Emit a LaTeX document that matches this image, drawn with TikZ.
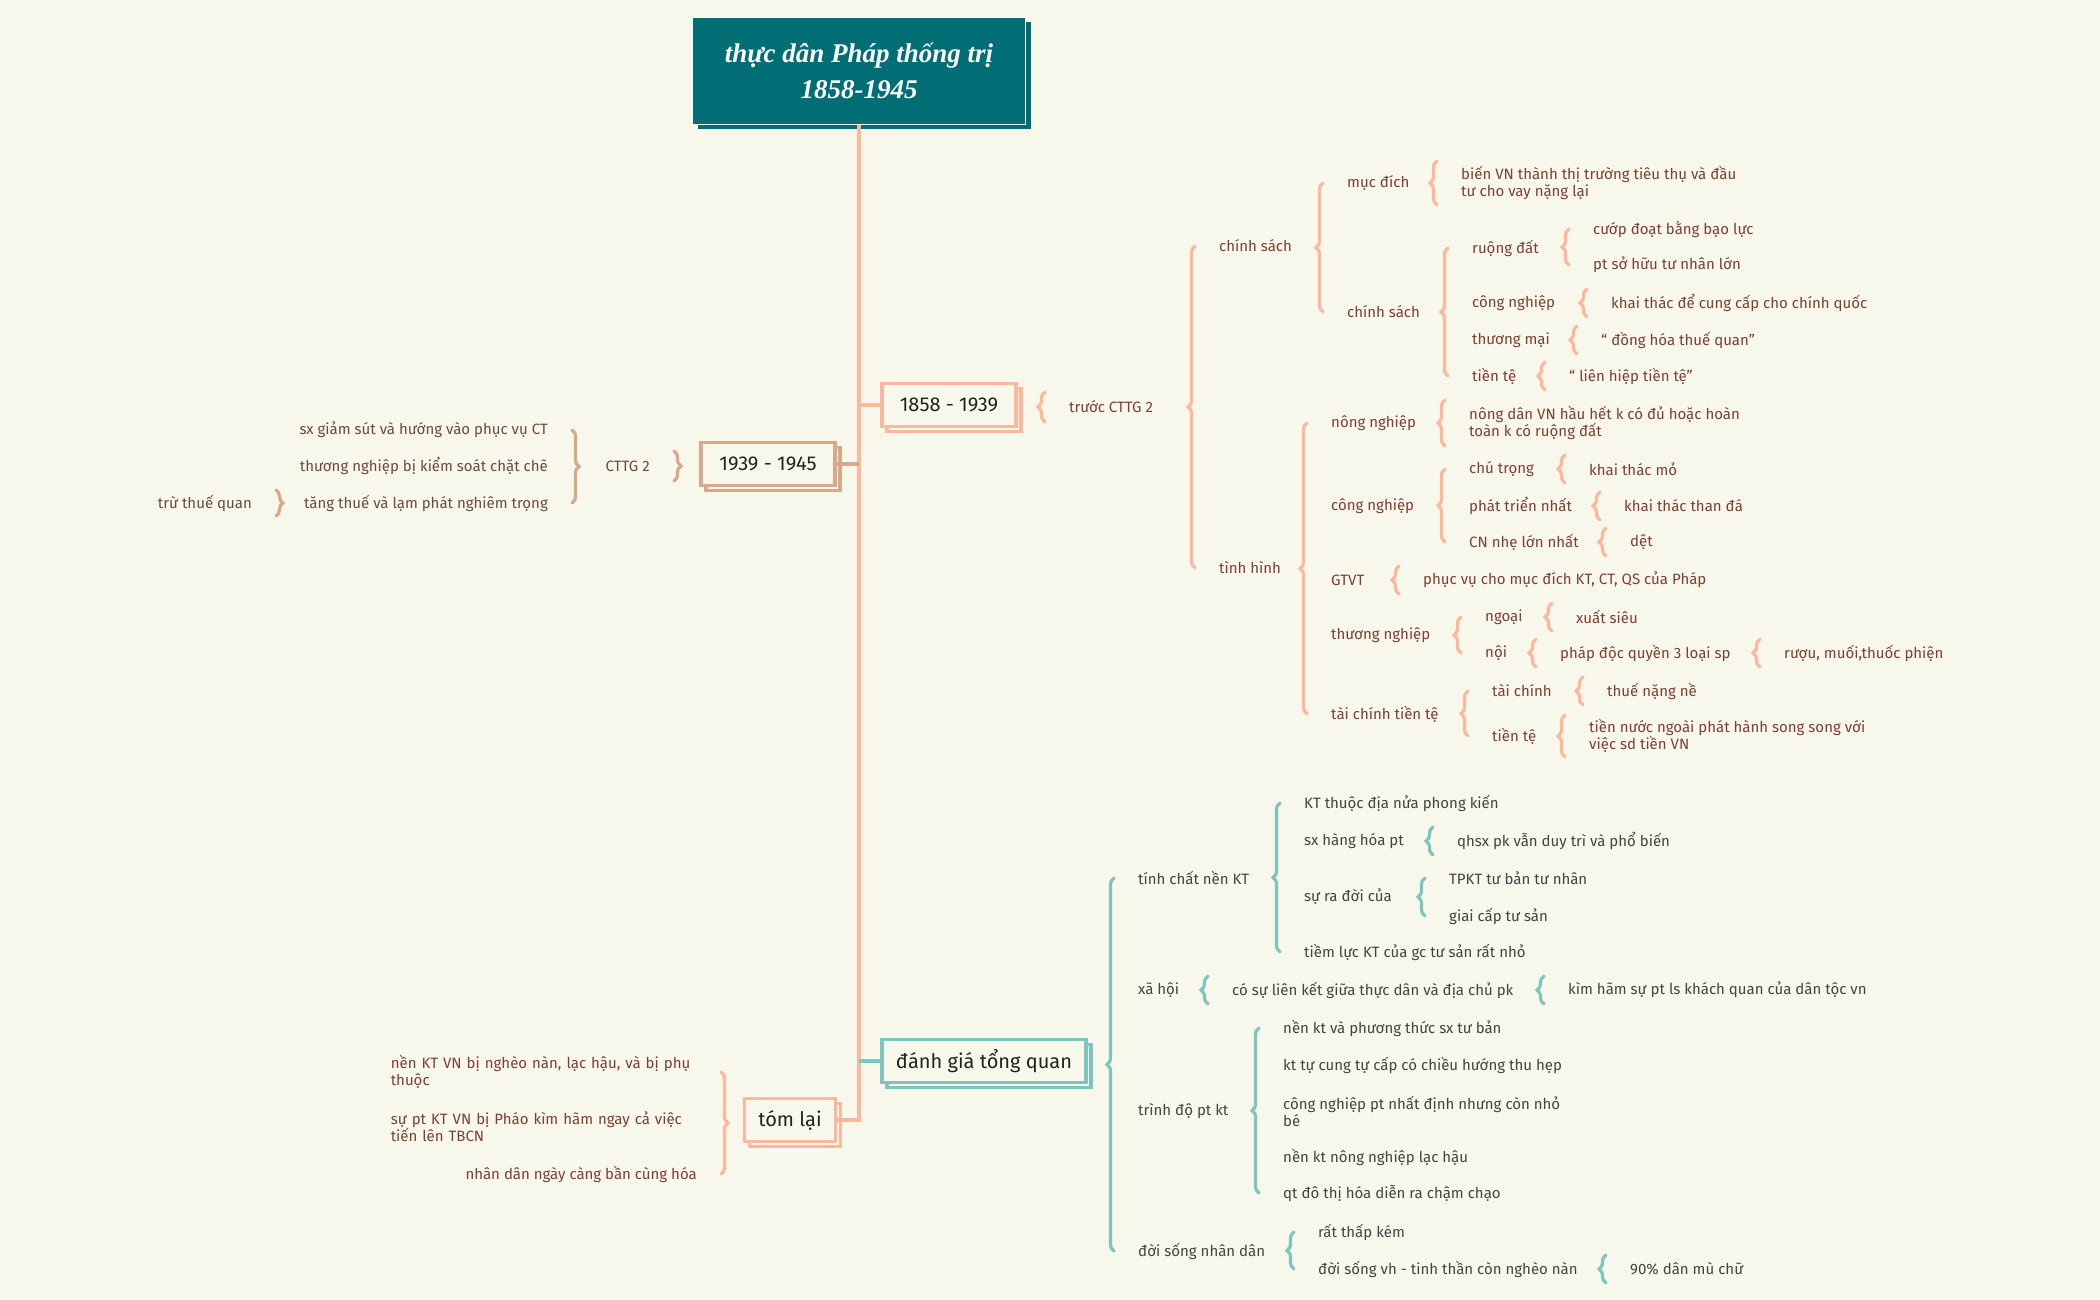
\documentclass[tikz,border=0pt]{standalone}
\usepackage{fontspec}
\setmainfont{Fira Sans}
\newfontfamily\titlefont{Liberation Serif}
\usepackage{xcolor}
\usetikzlibrary{calc,decorations.pathreplacing,shadows}

\definecolor{bgc}{HTML}{F8F7EC}
\definecolor{salm}{HTML}{FFB79B}
\definecolor{tanb}{HTML}{D9A88A}
\definecolor{tl}{HTML}{7EC4BF}
\definecolor{ttl}{HTML}{016E76}
\definecolor{brn}{HTML}{7D4030}
\definecolor{brn2}{HTML}{6B4B3E}
\definecolor{gtx}{HTML}{3E4644}
\definecolor{dark}{HTML}{222222}

\tikzset{
  item/.style={font=\fontsize{15}{17}\selectfont, inner sep=0pt, anchor=west, text=#1, align=left},
  itemr/.style={font=\fontsize{15}{17}\selectfont, inner sep=0pt, anchor=east, text=#1, align=right},
  topic/.style={draw=#1, line width=3.2pt, fill=bgc, text=dark, font=\fontsize{20}{22}\selectfont,
    minimum height=43pt, inner xsep=14pt, copy shadow={shadow xshift=5pt, shadow yshift=-5pt}},
  headbox/.style={fill=ttl, draw=bgc, line width=1.2pt, text=white, align=center,
    font=\titlefont\fontsize{27}{36}\selectfont\bfseries\itshape,
    minimum width=333pt, minimum height=107pt,
    general shadow={fill=ttl, shadow xshift=5pt, shadow yshift=-5pt}},
  lnk/.style={draw=#1, line width=3.6pt},
  brc/.style={draw=#1, line width=3.2pt, line cap=round, decorate, decoration={brace, amplitude=7pt}},
}

% { brace in front of nodes #3 (top) .. #4 (bottom), #1 = extra reach
\newcommand{\brW}[4][0]{\draw[brc=#2] ($(#4.west)+(-24,#1)$) -- ($(#3.west)+(-24,-#1)$);}
% } brace behind nodes #3 (top) .. #4 (bottom)
\newcommand{\brE}[4][0]{\draw[brc=#2] ($(#3.east)+(24,-#1)$) -- ($(#4.east)+(24,#1)$);}

\begin{document}
\begin{tikzpicture}[x=1pt,y=-1pt]

  % Background
  \fill[bgc] (0,0) rectangle (2100,1300);
  \useasboundingbox (0,0) rectangle (2100,1300);

  % Title
  \node[headbox] (title) at (859,71) {thực dân Pháp thống trị\\1858-1945};

  % Main topics
  \node[topic=salm, minimum width=134pt] (p1858) at (949,405) {1858 - 1939};
  \node[topic=tanb, minimum width=134pt] (p1939) at (768,464) {1939 - 1945};
  \node[topic=tl, minimum width=203pt] (tongquan) at (984,1061) {đánh giá tổng quan};
  \node[topic=salm, minimum width=90pt] (tomlai) at (790,1120) {tóm lại};

  % Trunk and links
  \draw[lnk=salm] (title.south) |- (tomlai.east);
  \draw[lnk=salm] (p1858.west -| title.south) -- (p1858.west);
  \draw[lnk=tanb] (p1939.east) -- (p1939.east -| title.south);
  \draw[lnk=tl] (tongquan.west -| title.south) -- (tongquan.west);

  % 1858 - 1939
  \node[item=brn] (truoc) at (1069,407) {trước CTTG 2};
  \node[item=brn] (cs) at (1219,246) {chính sách};
  \node[item=brn] (mucdich) at (1347,183) {mục đích};
  \node[item=brn] (mucdicha) at (1461,183) {biến VN thành thị trường tiêu thụ và đầu\\tư cho vay nặng lại};
  \node[item=brn] (csb) at (1347,312) {chính sách};
  \node[item=brn] (ruong) at (1472,248) {ruộng đất};
  \node[item=brn] (ruonga) at (1593,229) {cướp đoạt bằng bạo lực};
  \node[item=brn] (ruongb) at (1593,265) {pt sở hữu tư nhân lớn};
  \node[item=brn] (cnga) at (1472,303) {công nghiệp};
  \node[item=brn] (cngaa) at (1611,303) {khai thác để cung cấp cho chính quốc};
  \node[item=brn] (tmai) at (1472,340) {thương mại};
  \node[item=brn] (tmaia) at (1601,340) {“ đồng hóa thuế quan”};
  \node[item=brn] (tiente) at (1472,376) {tiền tệ};
  \node[item=brn] (tientea) at (1569,376) {“ liên hiệp tiền tệ”};

  \node[item=brn] (tinhhinh) at (1219,568) {tình hình};
  \node[item=brn] (nong) at (1331,423) {nông nghiệp};
  \node[item=brn] (nonga) at (1469,423) {nông dân VN hầu hết k có đủ hoặc hoàn\\toàn k có ruộng đất};
  \node[item=brn] (cngb) at (1331,506) {công nghiệp};
  \node[item=brn] (chu) at (1469,469) {chú trọng};
  \node[item=brn] (chua) at (1589,469) {khai thác mỏ};
  \node[item=brn] (phat) at (1469,506) {phát triển nhất};
  \node[item=brn] (phata) at (1624,506) {khai thác than đá};
  \node[item=brn] (nhe) at (1469,542) {CN nhẹ lớn nhất};
  \node[item=brn] (nhea) at (1630,542) {dệt};
  \node[item=brn] (gtvt) at (1331,580) {GTVT};
  \node[item=brn] (gtvta) at (1423,580) {phục vụ cho mục đích KT, CT, QS của Pháp};
  \node[item=brn] (thng) at (1331,635) {thương nghiệp};
  \node[item=brn] (ngoai) at (1485,617) {ngoại};
  \node[item=brn] (ngoaia) at (1576,617) {xuất siêu};
  \node[item=brn] (noi) at (1485,653) {nội};
  \node[item=brn] (noia) at (1560,653) {pháp độc quyền 3 loại sp};
  \node[item=brn] (noib) at (1784,653) {rượu, muối,thuốc phiện};
  \node[item=brn] (taitt) at (1331,714) {tài chính tiền tệ};
  \node[item=brn] (taic) at (1492,691) {tài chính};
  \node[item=brn] (taica) at (1607,691) {thuế nặng nề};
  \node[item=brn] (tienb) at (1492,736) {tiền tệ};
  \node[item=brn] (tienba) at (1589,736) {tiền nước ngoài phát hành song song với\\việc sd tiền VN};

  \brW[15]{salm}{truoc}{truoc}
  \brW{salm}{cs}{tinhhinh}
  \brW{salm}{mucdich}{csb}
  \brW[22]{salm}{mucdicha}{mucdicha}
  \brW{salm}{ruong}{tiente}
  \brW{salm}{ruonga}{ruongb}
  \brW[14]{salm}{cngaa}{cngaa}
  \brW[14]{salm}{tmaia}{tmaia}
  \brW[14]{salm}{tientea}{tientea}
  \brW{salm}{nong}{taitt}
  \brW[23]{salm}{nonga}{nonga}
  \brW{salm}{chu}{nhe}
  \brW[14]{salm}{chua}{chua}
  \brW[14]{salm}{phata}{phata}
  \brW[14]{salm}{nhea}{nhea}
  \brW[14]{salm}{gtvta}{gtvta}
  \brW{salm}{ngoai}{noi}
  \brW[14]{salm}{ngoaia}{ngoaia}
  \brW[14]{salm}{noia}{noia}
  \brW[14]{salm}{noib}{noib}
  \brW{salm}{taic}{tienb}
  \brW[14]{salm}{taica}{taica}
  \brW[21]{salm}{tienba}{tienba}

  % 1939 - 1945
  \node[itemr=brn2] (cttg) at (650,466) {CTTG 2};
  \node[itemr=brn2] (sxgiam) at (548,430) {sx giảm sút và hướng vào phục vụ CT};
  \node[itemr=brn2] (thkiem) at (548,466) {thương nghiệp bị kiểm soát chặt chẽ};
  \node[itemr=brn2] (tangthue) at (548,503) {tăng thuế và lạm phát nghiêm trọng};
  \node[itemr=brn2] (truthue) at (252,503) {trừ thuế quan};

  \brE[15]{tanb}{cttg}{cttg}
  \brE{tanb}{sxgiam}{tangthue}
  \brE[13]{tanb}{truthue}{truthue}

  % danh gia tong quan
  \node[item=gtx] (tinhchat) at (1138,878) {tính chất nền KT};
  \node[item=gtx] (ktthuoc) at (1304,803) {KT thuộc địa nửa phong kiến};
  \node[item=gtx] (sxhang) at (1304,841) {sx hàng hóa pt};
  \node[item=gtx] (sxhanga) at (1457,841) {qhsx pk vẫn duy trì và phổ biến};
  \node[item=gtx] (suradoi) at (1304,897) {sự ra đời của};
  \node[item=gtx] (tpkt) at (1449,878) {TPKT tư bản tư nhân};
  \node[item=gtx] (giaicap) at (1449,916) {giai cấp tư sản};
  \node[item=gtx] (tiemluc) at (1304,952) {tiềm lực KT của gc tư sản rất nhỏ};
  \node[item=gtx] (xahoi) at (1138,990) {xã hội};
  \node[item=gtx] (lienket) at (1232,990) {có sự liên kết giữa thực dân và địa chủ pk};
  \node[item=gtx] (kimham) at (1568,990) {kìm hãm sự pt ls khách quan của dân tộc vn};
  \node[item=gtx] (trinhdo) at (1138,1111) {trình độ pt kt};
  \node[item=gtx] (tda) at (1283,1028) {nền kt và phương thức sx tư bản};
  \node[item=gtx] (tdb) at (1283,1065) {kt tự cung tự cấp có chiều hướng thu hẹp};
  \node[item=gtx] (tdc) at (1283,1111) {công nghiệp pt nhất định nhưng còn nhỏ\\bé};
  \node[item=gtx] (tdd) at (1283,1157) {nền kt nông nghiệp lạc hậu};
  \node[item=gtx] (tde) at (1283,1193) {qt đô thị hóa diễn ra chậm chạo};
  \node[item=gtx] (doisong) at (1138,1251) {đời sống nhân dân};
  \node[item=gtx] (thapkem) at (1318,1232) {rất thấp kém};
  \node[item=gtx] (vhtt) at (1318,1269) {đời sống vh - tinh thần còn nghèo nàn};
  \node[item=gtx] (muchu) at (1630,1269) {90\% dân mù chữ};

  \brW{tl}{tinhchat}{doisong}
  \brW{tl}{ktthuoc}{tiemluc}
  \brW[14]{tl}{sxhanga}{sxhanga}
  \brW{tl}{tpkt}{giaicap}
  \brW[14]{tl}{lienket}{lienket}
  \brW[14]{tl}{kimham}{kimham}
  \brW{tl}{tda}{tde}
  \brW{tl}{thapkem}{vhtt}
  \brW[14]{tl}{muchu}{muchu}

  % tom lai
  \node[item=brn, anchor=east, text width=306pt] (kla) at (697,1072) {nền KT VN bị nghèo nàn, lạc hậu, và bị phụ\\thuộc};
  \node[item=brn, anchor=east, text width=306pt] (klb) at (697,1127) {sự pt KT VN bị Pháo kìm hãm ngay cả việc\\tiến lên TBCN};
  \node[itemr=brn] (klc) at (697,1174) {nhân dân ngày càng bần cùng hóa};

  \brE{salm}{kla}{klc}

\end{tikzpicture}
\end{document}
